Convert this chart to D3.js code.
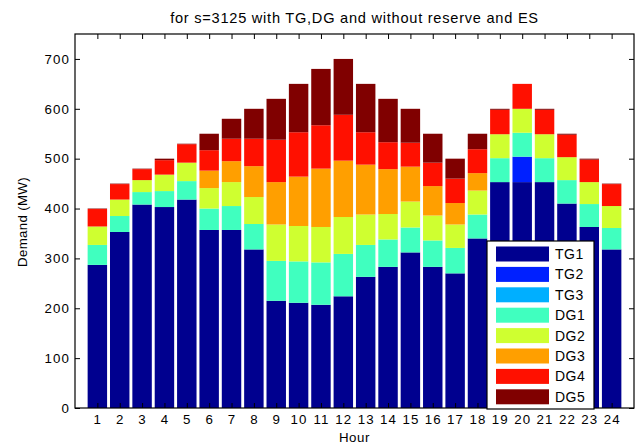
<!DOCTYPE html>
<html>
<head>
<meta charset="utf-8">
<script src="https://cdn.jsdelivr.net/npm/d3@7"></script>
<style>
  body { margin: 0; background: #fff; }
  svg text { font-family: "Liberation Sans", Arial, sans-serif; fill: #000; font-size: 13.3px; letter-spacing: 1.1px; }
</style>
</head>
<body>
<svg id="chart"></svg>
<script>
var hours = d3.range(1, 25);
var seriesNames = ['TG1', 'TG2', 'TG3', 'DG1', 'DG2', 'DG3', 'DG4', 'DG5'];
var seriesColors = ['#00008f', '#0020ff', '#00afff', '#40ffbf', '#cfff30', '#ff9f00', '#ff1000', '#800000'];

var tg1 = [287, 353, 408, 403, 418, 357, 357, 318, 215, 211, 207, 224, 263, 283, 312, 283, 270, 340, 453, 453, 453, 410, 363, 318];
var tg2 = [0, 0, 0, 0, 0, 0, 0, 0, 0, 0, 0, 0, 0, 0, 0, 0, 0, 0, 0, 51, 0, 0, 0, 0];
var tg3 = [0, 0, 0, 0, 0, 0, 0, 0, 0, 0, 0, 0, 0, 0, 0, 0, 0, 0, 0, 0, 0, 0, 0, 0];
var dg1 = [40, 32, 25, 32, 37, 43, 48, 51, 80, 83, 85, 85, 64, 55, 50, 53, 51, 48, 48, 48, 48, 47, 46, 43];
var dg2 = [37, 33, 24, 33, 37, 41, 48, 54, 73, 71, 71, 74, 61, 51, 52, 50, 47, 48, 48, 48, 48, 46, 44, 44];
var dg3 = [0, 0, 0, 0, 0, 35, 42, 62, 85, 99, 117, 113, 100, 90, 70, 59, 43, 35, 0, 0, 0, 0, 0, 0];
var dg4 = [35, 31, 22, 29, 37, 41, 45, 55, 85, 89, 87, 92, 65, 54, 48, 47, 49, 48, 49, 50, 49, 45, 45, 44];
var dg5 = [1, 1, 1, 3, 1, 33, 40, 60, 82, 97, 113, 112, 97, 87, 68, 58, 40, 31, 2, 0, 2, 2, 2, 1];

var yTicks = [0, 100, 200, 300, 400, 500, 600, 700];

var width = 638, height = 446;
var plotL = 75, plotR = 634, plotT = 34, plotB = 408;

var svg = d3.select('#chart').attr('width', width).attr('height', height);

var x = d3.scaleLinear().domain([0, 25]).range([plotL, plotR]);
var y = d3.scaleLinear().domain([0, 750]).range([plotB, plotT]);

var rows = hours.map(function(h, i) {
    return { hour: h, TG1: tg1[i], TG2: tg2[i], TG3: tg3[i], DG1: dg1[i],
             DG2: dg2[i], DG3: dg3[i], DG4: dg4[i], DG5: dg5[i] };
});
var stacked = d3.stack().keys(seriesNames)(rows);

var barW = (x(1) - x(0)) * 0.87;

svg.append('g')
    .selectAll('g')
    .data(stacked)
    .enter()
    .append('g')
        .attr('fill', function(d, i) { return seriesColors[i]; })
    .selectAll('rect')
    .data(function(d) { return d; })
    .enter()
    .append('rect')
        .attr('x', function(d) { return x(d.data.hour) - barW / 2; })
        .attr('width', barW)
        .attr('y', function(d) { return y(d[1]); })
        .attr('height', function(d) { return y(d[0]) - y(d[1]); });

// axes box with inward ticks
svg.append('g')
    .attr('transform', 'translate(0,' + plotB + ')')
    .call(d3.axisBottom(x).tickValues(hours).tickSize(-5).tickPadding(7))
    .call(g => g.select('.domain').remove())
    .selectAll('text').attr('font-size', null).attr('font-family', null);

svg.append('g')
    .attr('transform', 'translate(0,' + plotT + ')')
    .call(d3.axisTop(x).tickValues(hours).tickSize(-5).tickFormat(''))
    .call(g => g.select('.domain').remove());

svg.append('g')
    .attr('transform', 'translate(' + plotL + ',0)')
    .call(d3.axisLeft(y).tickValues(yTicks).tickSize(-5).tickPadding(5))
    .call(g => g.select('.domain').remove())
    .selectAll('text').attr('font-size', null).attr('font-family', null);

svg.append('g')
    .attr('transform', 'translate(' + plotR + ',0)')
    .call(d3.axisRight(y).tickValues(yTicks).tickSize(-5).tickFormat(''))
    .call(g => g.select('.domain').remove());

svg.append('rect')
    .attr('x', plotL).attr('y', plotT)
    .attr('width', plotR - plotL).attr('height', plotB - plotT)
    .attr('fill', 'none').attr('stroke', '#000').attr('stroke-width', 1.2);

svg.append('text')
    .attr('x', (plotL + plotR) / 2).attr('y', 23)
    .style('text-anchor', 'middle')
    .style('font-size', '14.6px')
    .style('letter-spacing', '0.75px')
    .text('for s=3125 with TG,DG and without reserve and ES');

svg.append('text')
    .attr('x', (plotL + plotR) / 2).attr('y', 442)
    .style('text-anchor', 'middle')
    .style('letter-spacing', '0.6px')
    .text('Hour');

svg.append('text')
    .attr('transform', 'translate(27,222) rotate(-90)')
    .style('text-anchor', 'middle')
    .style('letter-spacing', '0.3px')
    .text('Demand (MW)');

// legend
var legend = svg.append('g').attr('transform', 'translate(487,241)');
legend.append('rect')
    .attr('width', 107).attr('height', 168)
    .attr('fill', '#fff').attr('stroke', '#000').attr('stroke-width', 1.2);
var item = legend.selectAll('.item')
    .data(seriesNames)
    .enter()
    .append('g')
        .attr('transform', function(d, i) { return 'translate(0,' + (13 + i * 20.4) + ')'; });
item.append('rect')
    .attr('x', 9).attr('y', -7.5)
    .attr('width', 53).attr('height', 15)
    .attr('fill', function(d, i) { return seriesColors[i]; });
item.append('text')
    .attr('x', 68).attr('y', 5)
    .style('font-size', '14px')
    .style('letter-spacing', '0.5px')
    .text(function(d) { return d; });
</script>
</body>
</html>
